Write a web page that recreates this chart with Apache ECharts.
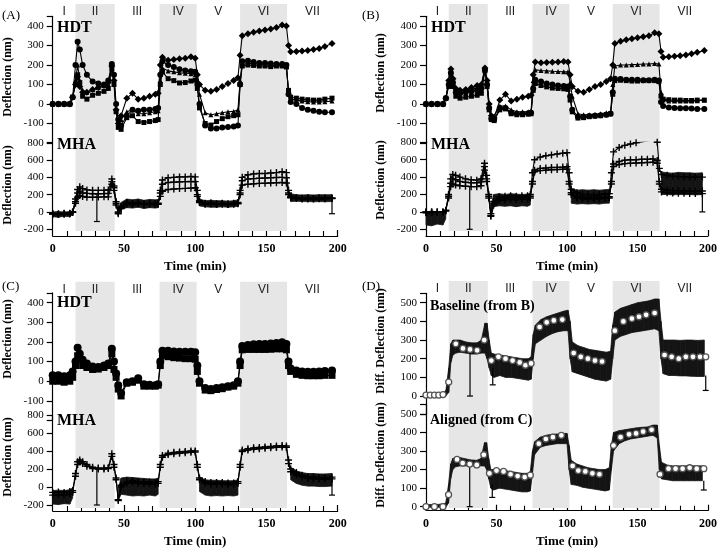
<!DOCTYPE html>
<html>
<head>
<meta charset="utf-8">
<script src="https://cdn.jsdelivr.net/npm/echarts@6/dist/echarts.min.js"></script>
<style>
  html, body { margin: 0; padding: 0; background: #fff; }
  #chart { width: 720px; height: 549px; }
</style>
</head>
<body>
<div id="chart"></div>
<script>
// sampling times (min), shared by all traces
const T = [0,4,8,12,14,
  16,17.5,19,21,24,28,32,36,39,41.5,43,
  44.5,46,48,52,56,60,64,68,72,74,
  75.5,77,81,85,89,93,97,100,
  101.5,103,107,111,115,119,123,127,130,
  131.5,133,137,141,145,149,153,157,161,164,
  165.5,167,171,175,179,183,187,191,196];

const phaseNames = ['I','II','III','IV','V','VI','VII'];
const phaseEdges = [0,16,43.5,75,101,131.5,164.5,200];

// (A) HDT
const hdtA1 = [0,0,0,0,35, 100,140,90,60,60,75,85,95,110,195,120, -30,-100,-60,30,55,25,30,40,50,55,
  200,240,225,228,232,235,242,235, 150,100,70,65,75,90,105,120,135,
  250,350,360,368,375,380,385,392,405,400, 300,268,270,272,275,280,285,295,310];
const hdtA2 = [0,0,0,0,35, 200,320,280,200,150,115,105,100,120,205,150, 0,-80,-110,-60,-30,-35,-30,-30,-25,-20,
  150,220,200,190,178,172,168,165, 100,0,-110,-125,-125,-120,-118,-115,-110,
  100,220,222,215,210,210,208,205,205,200, 50,10,0,-20,-30,-35,-40,-42,-42];
const hdtA3 = [0,0,0,0,35, 120,200,120,70,60,75,85,95,100,200,130, -20,-90,-80,-40,-30,-50,-50,-45,-40,-35,
  120,185,170,165,160,158,155,150, 120,50,-45,-55,-50,-45,-40,-38,-30,
  120,200,210,205,205,200,200,198,200,195, 60,25,20,15,12,10,10,12,15];
const hdtA4 = [0,0,0,0,35, 100,150,110,40,25,45,55,65,80,180,100, -40,-120,-130,-70,-60,-90,-95,-90,-85,-80,
  100,165,130,120,108,110,118,122, 80,-20,-100,-108,-90,-75,-65,-60,-55,
  100,195,200,198,195,195,192,195,195,190, 70,35,30,25,22,20,20,25,30];

// (A) MHA
const mhaA1 = [-20,-25,-15,-20,0, 150,260,290,270,255,250,250,250,255,380,300, 120,0,60,110,100,110,95,100,95,100,
  250,370,395,400,405,405,410,405, 250,130,100,105,95,100,95,100,110,
  250,400,430,440,445,445,450,455,465,455, 250,180,165,160,160,158,160,160,160];
const mhaA2 = [-20,-20,-20,-15,0, 120,220,240,220,215,210,210,212,215,350,280, 100,-10,50,100,90,100,90,95,90,95,
  220,320,340,345,348,350,352,350, 200,120,95,100,90,95,90,95,100,
  220,360,380,385,390,392,395,398,400,395, 220,170,160,155,155,155,155,158,158];
const mhaA3 = [-25,-30,-25,-20,-5, 100,170,190,180,170,170,172,175,175,320,250, 80,-20,40,90,85,95,85,90,85,90,
  180,240,260,265,270,272,275,280, 180,110,90,95,85,90,85,90,95,
  200,310,320,325,330,332,335,338,340,335, 200,165,155,150,150,150,152,152,155];
const _ = null;
const noiseLoA = [-55,-60,-50,-55,-30, _,_,_,_,_,_,_,_,_,_,_, _,-20,30,50,45,55,40,50,45,50,
  _,_,_,_,_,_,_,_, _,70,60,55,55,60,55,60,65, _,_,_,_,_,_,_,_,_,_, _,120,125,120,120,118,120,118,120];
const noiseHiA = [0,5,0,5,10, _,_,_,_,_,_,_,_,_,_,_, _,40,110,150,140,150,135,145,140,145,
  _,_,_,_,_,_,_,_, _,150,130,135,130,130,125,130,140, _,_,_,_,_,_,_,_,_,_, _,210,200,195,200,195,200,198,200];
const spikesA = [[31, 210, -110], [196, 160, -20]];

// (B) HDT
const hdtB1 = [0,0,0,0,30, 120,180,130,80,70,75,85,95,100,185,120, 0,-60,-70,20,50,15,25,35,40,45,
  150,215,212,213,214,215,218,215, 150,90,65,60,75,90,100,115,130,
  200,310,322,330,335,340,345,350,365,360, 270,240,242,245,248,252,258,265,275];
const hdtB2 = [0,0,0,0,30, 110,170,120,70,60,65,75,85,95,180,110, -10,-70,-60,-10,-10,-30,-40,-40,-40,-35,
  120,175,172,170,168,167,165,165, 110,40,-50,-55,-55,-52,-50,-45,-40,
  100,195,200,200,202,203,205,205,208,205, 60,20,15,15,15,15,15,17,20];
const hdtB3 = [0,0,0,0,30, 100,160,110,60,55,60,65,70,80,175,100, -20,-75,-80,-20,-20,-45,-50,-50,-48,-45,
  80,125,115,105,100,95,92,90, 40,-30,-65,-65,-62,-60,-58,-55,-50,
  60,130,128,125,125,125,122,122,125,120, 10,-10,-18,-20,-22,-22,-23,-25,-25];
const hdtB4 = [0,0,0,0,30, 90,150,90,40,30,35,40,45,55,170,90, -30,-80,-85,-30,-25,-50,-55,-55,-52,-50,
  70,105,95,88,82,80,78,75, 20,-40,-72,-70,-65,-62,-60,-55,-50,
  50,120,122,120,118,118,120,120,120,115, 40,25,22,20,20,18,18,20,20];

// (B) MHA
const mhaB1 = [0,0,0,0,20, 200,380,430,420,400,380,370,365,380,560,420, 200,-20,120,170,180,185,180,185,185,200,
  450,600,630,645,655,665,675,680, 450,260,220,200,200,195,200,205,210,
  450,690,740,765,780,795,805,815,835,800, 500,430,420,410,405,405,400,400,400];
const mhaB2 = [0,0,0,0,15, 180,330,380,370,350,340,335,335,345,520,380, 180,-40,100,150,160,165,160,165,165,180,
  350,480,500,505,510,512,515,520, 350,220,180,170,170,165,170,170,175,
  350,550,580,595,600,600,605,605,610,590, 350,260,250,245,245,242,240,240,240];
const mhaB3 = [-10,-10,-5,-5,10, 160,290,320,310,300,295,290,290,300,480,350, 160,-50,80,130,140,145,140,145,145,160,
  320,460,475,480,485,488,490,492, 320,200,160,150,150,150,150,155,160,
  320,520,545,555,560,562,565,568,570,560, 320,230,220,218,215,215,212,212,210];
const noiseLoB = [-150,-160,-140,-150,-80, _,_,_,_,_,_,_,_,_,_,_, _,-60,60,70,65,70,60,70,65,80,
  _,_,_,_,_,_,_,_, _,100,90,95,90,95,90,100,100, _,_,_,_,_,_,_,_,_,_, _,200,200,195,200,198,200,195,200];
const noiseHiB = [0,10,0,5,30, _,_,_,_,_,_,_,_,_,_,_, _,60,200,210,200,210,205,200,205,210,
  _,_,_,_,_,_,_,_, _,270,250,255,250,255,250,255,260, _,_,_,_,_,_,_,_,_,_, _,460,450,445,455,450,450,445,450];
const spikesB = [[31, 300, -200], [196, 220, 0]];

// (C) HDT
const hdtC1 = [30,30,25,30,50, 100,170,140,110,90,75,72,80,90,165,100, 40,-20,-60,-5,0,15,-15,-18,-20,-15,
  100,155,155,152,150,150,150,148, 80,0,-35,-40,-35,-30,-25,-20,0,
  100,180,185,188,190,190,192,195,198,190, 100,65,55,50,48,48,50,52,55];
const hdtC2 = [0,0,-5,0,20, 80,130,110,80,70,60,62,70,80,140,60, 20,-40,-75,-10,-5,5,-25,-25,-25,-20,
  80,130,125,120,118,115,115,112, 50,-10,-45,-48,-42,-38,-30,-25,-10,
  80,160,162,162,162,162,163,165,165,160, 80,50,35,30,28,28,28,30,30];

// (C) MHA
const mhaC1 = [-60,-55,-60,-50,-40, 150,280,300,280,250,220,210,210,215,370,250, 100,-140,20,60,70,60,55,55,50,60,
  250,350,375,385,390,395,400,400, 250,100,60,50,50,50,45,45,60,
  250,410,425,435,440,445,450,455,460,455, 300,200,160,130,115,110,105,100,110];
const mhaC2 = [-90,-85,-90,-80,-60, 120,250,280,260,230,205,200,200,205,340,220, 80,-150,0,40,50,40,35,35,30,40,
  220,330,360,370,375,380,385,388, 220,80,40,30,30,30,25,25,40,
  220,395,410,420,425,430,435,440,445,440, 260,170,130,110,95,90,85,85,90];
const noiseLoC = [-190,-195,-185,-190,-120, _,_,_,_,_,_,_,_,_,_,_, _,-150,-80,-90,-100,-95,-100,-90,-100,-80,
  _,_,_,_,_,_,_,_, _,-50,-90,-100,-95,-100,-95,-100,-90, _,_,_,_,_,_,_,_,_,_, _,80,40,20,10,10,5,5,10];
const noiseHiC = [-40,-35,-40,-30,-10, _,_,_,_,_,_,_,_,_,_,_, _,-20,100,110,105,100,95,90,90,100,
  _,_,_,_,_,_,_,_, _,110,80,75,75,70,70,70,80, _,_,_,_,_,_,_,_,_,_, _,220,180,160,150,150,145,145,150];
const spikesC = [[31, 210, -200], [196, 100, -90]];

// (D) Baseline (from B): spread and mean
const baseLo = [-3,-3,-3,-3,0, 20,180,220,230,235,230,225,225,230,230,200, 150,110,100,110,100,100,95,90,85,90,
  200,280,300,320,335,345,350,350, 200,130,120,110,100,90,85,80,90,
  200,300,320,330,340,345,350,355,360,350, 200,120,110,110,108,108,106,105,105];
const baseHi = [12,12,12,15,30, 150,280,300,300,300,290,285,285,300,390,390, 300,230,225,220,215,210,205,200,200,210,
  330,380,410,425,435,445,455,460, 400,290,270,260,250,245,240,235,240,
  380,450,470,480,490,500,505,510,520,520, 400,300,300,300,298,300,300,298,300];
const baseCircT = [0,3,6,9,12,16,21,26,31,36,41,46,51,56,61,66,70,74,80,85,90,96,104,109,114,119,124,133,139,145,150,155,161,168,173,178,183,188,193,197];
const baseCircV = [5,5,5,5,8,75,280,255,250,245,300,190,210,200,190,180,165,175,370,395,405,410,230,210,200,190,185,350,400,415,425,435,445,220,210,200,210,210,210,210];
const spikesD1 = [[31, 245, 0], [47, 150, 60], [197, 110, 30]];

// (D) Aligned (from C)
const alignLo = [-3,-3,-3,-3,-3, 20,150,200,215,220,220,220,220,220,220,200, 150,100,90,100,95,90,85,80,80,85,
  180,280,320,330,335,340,340,340, 200,120,115,105,100,95,90,85,90,
  200,300,340,355,365,370,375,380,385,370, 200,150,145,140,140,140,140,140,140];
const alignHi = [10,12,12,15,20, 120,230,260,265,265,258,252,250,260,345,345, 260,200,200,200,195,190,185,180,180,190,
  300,350,375,385,390,392,395,395, 330,250,230,220,210,205,200,200,210,
  330,400,410,415,420,425,428,430,440,440, 330,240,225,220,220,220,222,220,220];
const alignCircT = [0,6,12,16,22,26,31,36,41,45,50,55,60,65,70,74,80,85,90,96,104,108,113,118,123,133,138,144,149,154,160,166,172,177,182,187,192,197];
const alignCircV = [0,0,0,65,255,235,230,225,280,180,195,190,175,165,160,170,340,365,375,385,220,195,190,180,175,330,375,390,395,405,415,175,205,205,205,210,205,205];
const spikesD2 = [[31, 228, 0], [47, 120, 50], [197, 140, 90]];

const SERIF = 'Liberation Serif';
const PLUS = 'path://M4,0h2v4h4v2h-4v4h-2v-4h-4v-2h4z';
const pts = (xs, ys) => xs.map((x, i) => [x, ys[i]]);

const hdtTicks = { min: -200, max: 450, interval: 100, show: [-100, 400] };
const mhaTicks = { min: -200, max: 800, interval: 200, show: [-200, 800] };

const panels = [
  { left: 52.7, width: 285, back: [4, 227], top: [16.3, 126.7], bot: [142.7, 86.6], xoff: 6.7, yTitle: 'Deflection (nm)',
    titleX: 8, titleY: [77, 185], label: '(A)', labelPos: [2, 9], names: ['HDT', 'MHA'], namePos: [[57, 20], [57, 137]],
    topAxis: hdtTicks, botAxis: mhaTicks,
    topLines: [[hdtA1, 'diamond', 7], [hdtA2, 'circle', 6], [hdtA3, 'triangle', 5], [hdtA4, 'rect', 5]],
    botLines: [[mhaA1, PLUS, 7], [mhaA2, PLUS, 7], [mhaA3, PLUS, 7]],
    botBand: [noiseLoA, noiseHiA], botSpikes: spikesA },
  { left: 426, width: 284, back: [4, 227], top: [16.3, 126.7], bot: [142.3, 87], xoff: 6.7, yTitle: 'Deflection (nm)',
    titleX: 381, titleY: [73, 180], label: '(B)', labelPos: [362, 9], names: ['HDT', 'MHA'], namePos: [[431, 20], [431, 137]],
    topAxis: hdtTicks, botAxis: mhaTicks,
    topLines: [[hdtB1, 'diamond', 7], [hdtB2, 'triangle', 5], [hdtB3, 'circle', 6], [hdtB4, 'rect', 5]],
    botLines: [[mhaB1, PLUS, 7], [mhaB2, PLUS, 7], [mhaB3, PLUS, 7]],
    botBand: [noiseLoB, noiseHiB], botSpikes: spikesB },
  { left: 52.7, width: 285, back: [281.7, 226.3], top: [292.9, 127.6], bot: [415, 91.7], xoff: 6, yTitle: 'Deflection (nm)',
    titleX: 8, titleY: [339, 457], label: '(C)', labelPos: [2, 280], names: ['HDT', 'MHA'], namePos: [[57, 295], [57, 413]],
    topAxis: hdtTicks, botAxis: mhaTicks,
    topLines: [[hdtC1, 'circle', 8], [hdtC2, 'rect', 7]],
    botLines: [[mhaC1, PLUS, 7], [mhaC2, PLUS, 7]],
    botBand: [noiseLoC, noiseHiC], botSpikes: spikesC },
  { left: 426, width: 284, back: [281, 227], top: [293.4, 121.3], bot: [404.7, 102], xoff: 4, yTitle: 'Diff. Deflection (nm)',
    titleX: 381, titleY: [341, 455], label: '(D)', labelPos: [362, 280], names: ['Baseline (from B)', 'Aligned (from C)'],
    namePos: [[430, 299], [430, 413]],
    topAxis: { min: -100, max: 550, interval: 100, show: [0, 500] },
    botAxis: { min: 0, max: 550, interval: 100, show: [0, 500] },
    topLines: [], botLines: [],
    topBand: [baseLo, baseHi], botBand: [alignLo, alignHi],
    topCirc: [baseCircT, baseCircV], botCirc: [alignCircT, alignCircV],
    topSpikes: spikesD1, botSpikes: spikesD2 }
];

const grids = [], xAxes = [], yAxes = [], series = [], titles = [], graphics = [];

function yAxisFor(idx, ax) {
  return {
    gridIndex: idx, type: 'value', min: ax.min, max: ax.max, interval: ax.interval,
    axisLine: { show: true, lineStyle: { color: '#000', width: 1.2 } },
    axisTick: { show: true, length: 6, lineStyle: { color: '#000', width: 1.2 } },
    splitLine: { show: false },
    axisLabel: {
      margin: 9, fontFamily: SERIF, fontSize: 11, color: '#000',
      formatter: v => (v < ax.show[0] || v > ax.show[1]) ? '' : String(v)
    }
  };
}

// vertical bars (single drop-outs and end error bars)
function spikeSeries(idx, data) {
  return {
    type: 'custom', xAxisIndex: idx, yAxisIndex: idx, data: data, z: 4, silent: true,
    encode: { x: 0, y: [1, 2] },
    renderItem: (params, api) => {
      const p1 = api.coord([api.value(0), api.value(1)]);
      const p2 = api.coord([api.value(0), api.value(2)]);
      return { type: 'group', children: [
        { type: 'line', shape: { x1: p1[0], y1: p1[1], x2: p2[0], y2: p2[1] }, style: { stroke: '#000', lineWidth: 1.2 } },
        { type: 'line', shape: { x1: p2[0] - 3, y1: p2[1], x2: p2[0] + 3, y2: p2[1] }, style: { stroke: '#000', lineWidth: 1.2 } }
      ] };
    }
  };
}

// filled spread between lo and hi, one quad per sample step
function bandSeries(idx, lo, hi) {
  const data = [];
  for (let i = 0; i < T.length - 1; i++) {
    if (lo[i] != null && lo[i + 1] != null) data.push([T[i], lo[i], hi[i], T[i + 1], lo[i + 1], hi[i + 1]]);
  }
  return {
    type: 'custom', xAxisIndex: idx, yAxisIndex: idx, data: data, z: 2, silent: true,
    encode: { x: [0, 3], y: [1, 2, 4, 5] },
    renderItem: (params, api) => {
      const a = api.coord([api.value(0), api.value(1)]);
      const b = api.coord([api.value(3), api.value(4)]);
      const c = api.coord([api.value(3), api.value(5)]);
      const d = api.coord([api.value(0), api.value(2)]);
      return { type: 'polygon', shape: { points: [a, b, c, d] },
        style: { fill: '#141414', stroke: '#141414', lineWidth: 0.8 } };
    }
  };
}

function addContent(idx, lines, band, circ, spikes) {
  if (band) series.push(bandSeries(idx, band[0], band[1]));
  lines.forEach(([vals, sym, size]) => {
    series.push({ type: 'line', xAxisIndex: idx, yAxisIndex: idx, data: pts(T, vals),
      symbol: sym, symbolSize: size, showSymbol: true, showAllSymbol: true,
      lineStyle: { color: '#000', width: 1.1 }, itemStyle: { color: '#000' }, z: 3, silent: true });
  });
  if (circ) {
    series.push({ type: 'line', xAxisIndex: idx, yAxisIndex: idx, data: pts(circ[0], circ[1]),
      symbol: 'circle', symbolSize: 6, showAllSymbol: true, lineStyle: { width: 0, opacity: 0 },
      itemStyle: { color: '#fff', borderColor: '#555', borderWidth: 1.3 }, z: 5, silent: true });
  }
  if (spikes) series.push(spikeSeries(idx, spikes));
}

panels.forEach((p, k) => {
  const b = 3 * k, t = b + 1, m = b + 2;
  grids.push({ left: p.left, width: p.width, top: p.back[0], height: p.back[1] });
  grids.push({ left: p.left, width: p.width, top: p.top[0], height: p.top[1] });
  grids.push({ left: p.left, width: p.width, top: p.bot[0], height: p.bot[1] });

  xAxes.push({ gridIndex: b, type: 'value', min: 0, max: 200, show: false });
  xAxes.push({ gridIndex: t, type: 'value', min: 0, max: 200, show: false });
  xAxes.push({
    gridIndex: m, type: 'value', min: 0, max: 200, interval: 50, offset: p.xoff,
    axisLine: { show: true, onZero: false, lineStyle: { color: '#000', width: 1.2 } },
    axisTick: { show: true, inside: true, length: 6, lineStyle: { color: '#000', width: 1.2 } },
    minorTick: { show: true, splitNumber: 5, length: 5, lineStyle: { color: '#000', width: 1.1 } },
    splitLine: { show: false },
    axisLabel: { margin: 7, fontFamily: SERIF, fontSize: 12, fontWeight: 'bold', color: '#000' },
    name: 'Time (min)', nameLocation: 'middle', nameGap: 24,
    nameTextStyle: { fontFamily: SERIF, fontSize: 13, fontWeight: 'bold', color: '#000' }
  });

  yAxes.push({ gridIndex: b, type: 'value', min: 0, max: 1, show: false });
  yAxes.push(yAxisFor(t, p.topAxis));
  yAxes.push(yAxisFor(m, p.botAxis));

  // phase shading with Roman numerals
  series.push({
    type: 'line', xAxisIndex: b, yAxisIndex: b, data: [], z: 0, silent: true,
    markArea: {
      silent: true,
      data: phaseNames.map((name, i) => [{
        xAxis: phaseEdges[i],
        itemStyle: { color: i % 2 === 1 ? '#e6e6e6' : 'rgba(0,0,0,0)' },
        label: { show: true, formatter: name, position: 'insideTop', distance: 2,
          fontFamily: 'Liberation Sans', fontSize: 12, color: '#222' }
      }, { xAxis: phaseEdges[i + 1] }])
    }
  });

  addContent(t, p.topLines, p.topBand, p.topCirc, p.topSpikes);
  addContent(m, p.botLines, p.botBand, p.botCirc, p.botSpikes);

  titles.push({ text: p.label, left: p.labelPos[0], top: p.labelPos[1], padding: 0,
    textStyle: { fontFamily: SERIF, fontSize: 13, fontWeight: 'normal', color: '#000' } });
  p.names.forEach((n, j) => titles.push({ text: n, left: p.namePos[j][0], top: p.namePos[j][1], padding: 0,
    textStyle: { fontFamily: SERIF, fontSize: k === 3 ? 14 : 16, fontWeight: 'bold', color: '#000' } }));

  p.titleY.forEach(y => graphics.push({
    type: 'text', x: p.titleX, y: y, rotation: Math.PI / 2, silent: true,
    style: { text: p.yTitle, fontFamily: SERIF, fontSize: 12, fontWeight: 'bold', fill: '#000',
      textAlign: 'center', textVerticalAlign: 'middle' }
  }));
});

const chart = echarts.init(document.getElementById('chart'));
chart.setOption({
  animation: false,
  backgroundColor: '#fff',
  title: titles,
  grid: grids,
  xAxis: xAxes,
  yAxis: yAxes,
  series: series,
  graphic: graphics
});
</script>
</body>
</html>
